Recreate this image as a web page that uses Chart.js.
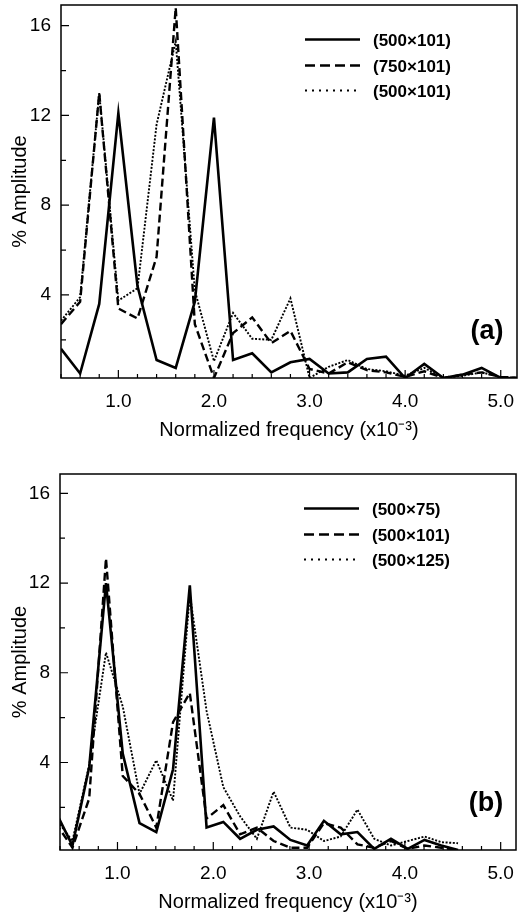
<!DOCTYPE html>
<html><head><meta charset="utf-8">
<script src="https://cdn.jsdelivr.net/npm/chart.js@4.4.1/dist/chart.umd.min.js"></script>
<style>
html,body{margin:0;padding:0;background:#fff;}
#wrap{position:relative;width:518px;height:920px;overflow:hidden;}
.box{position:absolute;left:0;width:518px;height:460px;}
</style></head><body>
<div id="wrap">
<div class="box" style="top:0"><canvas id="c1"></canvas></div>
<div class="box" style="top:460px"><canvas id="c2"></canvas></div>
</div>
<script>
const FONT = '"Liberation Sans", Arial, Helvetica, sans-serif';

// ---- Panel (a) ----
const freqA = [0.4,0.6,0.8,1.0,1.2,1.4,1.6,1.8,2.0,2.2,2.4,2.6,2.8,3.0,3.2,3.4,3.6,3.8,4.0,4.2,4.4,4.6,4.8,5.0,5.2];
const ampA_500x101_solid  = [1.6,0.5,3.6,12.1,4.4,1.1,0.75,3.7,11.9,1.1,1.4,0.55,1.0,1.15,0.5,0.55,1.15,1.25,0.3,0.93,0.3,0.45,0.75,0.3,0.3];
const ampA_750x101_dashed = [2.7,3.7,13.0,3.4,2.95,5.7,16.8,2.7,0.3,2.3,3.0,1.85,2.4,0.7,0.5,1.0,0.65,0.55,0.35,0.6,0.3,0.45,0.55,0.35,0.3];
const ampA_500x101_dotted = [2.85,3.9,13.0,3.75,4.3,11.6,15.3,4.2,1.05,3.2,2.05,2.0,3.85,0.3,0.8,1.1,0.7,0.6,0.4,0.75,0.3,0.4,0.55,0.35,0.3];
const labelsA = ['(500\u00d7101)','(750\u00d7101)','(500\u00d7101)'];

// ---- Panel (b) ----
const freqB = [0.355,0.53,0.705,0.88,1.055,1.23,1.405,1.58,1.755,1.93,2.105,2.28,2.455,2.63,2.805,2.98,3.155,3.33,3.505,3.68,3.855,4.03,4.205,4.38,4.555];
const ampB_500x75_solid   = [1.8,0.3,3.8,12.0,4.4,1.3,0.9,3.7,11.9,1.1,1.35,0.6,1.0,1.15,0.55,0.3,1.4,0.8,0.9,0.15,0.6,0.15,0.55,0.3,0.1];
const ampB_500x101_dashed = [1.3,0.2,2.4,13.1,3.4,2.6,1.1,5.8,7.1,1.5,2.1,0.8,1.1,0.5,0.2,0.2,1.3,1.1,0.35,0.2,0.5,0.15,0.3,0.2,0.1];
const ampB_500x125_dotted = [1.5,0.5,3.9,8.9,6.5,2.6,4.1,2.3,11.5,6.3,2.9,1.6,0.6,2.7,1.1,1.0,0.5,0.7,1.9,0.6,0.3,0.5,0.7,0.45,0.4];
const labelsB = ['(500\u00d775)','(500\u00d7101)','(500\u00d7125)'];

// ---- Ticks ----
const xTickVals = [0.4,0.6,0.8,1.0,1.2,1.4,1.6,1.8,2.0,2.2,2.4,2.6,2.8,3.0,3.2,3.4,3.6,3.8,4.0,4.2,4.4,4.6,4.8,5.0];
const xTickLabels = [1,2,3,4,5];
const yTickVals = [2,4,6,8,10,12,14,16];
const yTickLabels = [4,8,12,16];

const styles = [
  {borderWidth:2.6, borderDash:[], legendDash:[]},
  {borderWidth:2.4, borderDash:[8,4], legendDash:[10,5]},
  {borderWidth:1.9, borderDash:[2,1.6], legendDash:[2,5]}
];

function pts(xs, ys){ return xs.map((x,i)=>({x:x, y:ys[i]})); }

const framePlugin = {
  id:'frame',
  beforeDatasetsDraw(chart){
    const {ctx, chartArea:{left,top,right,bottom}, scales:{x,y}} = chart;
    ctx.save();
    ctx.strokeStyle='#000';
    ctx.lineWidth=1.5;
    ctx.strokeRect(left, top, right-left, bottom-top);
    ctx.lineWidth=1.2;
    ctx.beginPath();
    xTickVals.forEach(v=>{
      const px = x.getPixelForValue(v);
      const major = xTickLabels.some(t=>Math.abs(t-v)<1e-6);
      const len = major?8:4;
      ctx.moveTo(px,bottom); ctx.lineTo(px,bottom-len);
    });
    yTickVals.forEach(v=>{
      const py = y.getPixelForValue(v);
      const len = yTickLabels.includes(v)?8:5;
      ctx.moveTo(left,py); ctx.lineTo(left+len,py);
    });
    ctx.stroke();
    ctx.restore();
  },
  afterDraw(chart, args, opts){
    const {ctx, chartArea:{top,right,bottom}} = chart;
    ctx.save();
    ctx.fillStyle='#000'; ctx.strokeStyle='#000';
    const rows=[36,62,87];
    chart.data.datasets.forEach((ds,i)=>{
      const yy = top + rows[i];
      ctx.lineWidth = Math.max(ds.borderWidth, 2.2);
      ctx.setLineDash(styles[i].legendDash);
      ctx.beginPath();
      ctx.moveTo(right-212, yy-1.5); ctx.lineTo(right-157, yy-1.5);
      ctx.stroke();
      ctx.setLineDash([]);
      ctx.font = 'bold 17px ' + FONT;
      ctx.textAlign='left'; ctx.textBaseline='middle';
      ctx.fillText(ds.label, right-144, yy);
    });
    ctx.font = 'bold 27px ' + FONT;
    ctx.textAlign='center'; ctx.textBaseline='middle';
    ctx.fillText(opts.panel, right-30, bottom-46);
    ctx.restore();
  }
};

function makeChart(id, xs, series, labels, panel, cfg){
  const datasets = series.map((ys,i)=>({
    label: labels[i],
    data: pts(xs, ys),
    borderColor:'#000',
    backgroundColor:'#000',
    borderWidth: styles[i].borderWidth,
    borderDash: styles[i].borderDash,
    pointRadius:0,
    tension:0,
    fill:false
  }));
  return new Chart(document.getElementById(id), {
    type:'line',
    data:{datasets},
    plugins:[framePlugin],
    options:{
      responsive:true, maintainAspectRatio:false, animation:false, devicePixelRatio:1,
      layout:{padding:{top:cfg.padTop, right:cfg.padRight, left:0, bottom:0}},
      plugins:{legend:{display:false}, tooltip:{enabled:false}, frame:{panel}},
      scales:{
        x:{
          type:'linear', min:0.4, max:cfg.xMax,
          afterBuildTicks:s=>{ s.ticks = xTickVals.map(v=>({value:v})); },
          afterFit:s=>{ s.height = cfg.xHeight; s.paddingLeft = 0; s.paddingRight = 0; },
          grid:{display:false, drawTicks:false}, border:{display:false},
          ticks:{font:{family:FONT,size:19}, color:'#000', padding:12, autoSkip:false, maxRotation:0,
            callback:v=> xTickLabels.some(t=>Math.abs(t-v)<1e-6) ? Number(v).toFixed(1) : ''},
          title:{display:true, text:'Normalized frequency (x10\u207b\u00b3)', font:{family:FONT,size:20}, color:'#000', padding:{top:0,bottom:cfg.titlePad}}
        },
        y:{
          type:'linear', min:cfg.yMin, max:cfg.yMax,
          afterBuildTicks:s=>{ s.ticks = yTickVals.map(v=>({value:v})); },
          afterFit:s=>{ s.width = cfg.yWidth; s.paddingTop = 0; s.paddingBottom = 0; },
          grid:{display:false, drawTicks:false}, border:{display:false},
          ticks:{font:{family:FONT,size:19}, color:'#000', padding:10, autoSkip:false,
            callback:v=> yTickLabels.includes(v) ? String(v) : ''},
          title:{display:true, text:'% Amplitude', font:{family:FONT,size:20}, color:'#000', padding:{top:8,bottom:0}}
        }
      }
    }
  });
}

makeChart('c1', freqA, [ampA_500x101_solid, ampA_750x101_dashed, ampA_500x101_dotted], labelsA, '(a)',
  {padTop:5, padRight:1, xMax:5.17, yMin:0.3, yMax:16.92, xHeight:82, yWidth:61, titlePad:18});
makeChart('c2', freqB, [ampB_500x75_solid, ampB_500x101_dashed, ampB_500x125_dotted], labelsB, '(b)',
  {padTop:14, padRight:2, xMax:5.16, yMin:0.1, yMax:16.86, xHeight:70, yWidth:60, titlePad:6});
</script>
</body></html>
